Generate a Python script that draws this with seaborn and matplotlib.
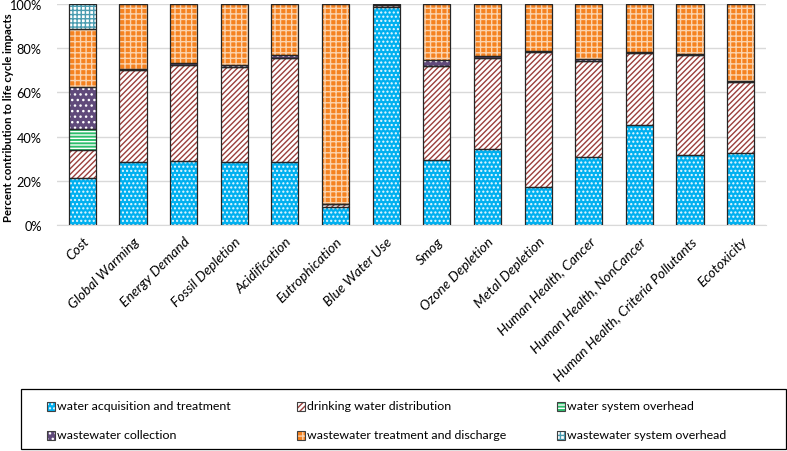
import matplotlib
matplotlib.use("Agg")
import matplotlib.pyplot as plt
import seaborn as sns
import numpy as np
from matplotlib.patches import Rectangle

categories = ["Cost", "Global Warming", "Energy Demand", "Fossil Depletion", "Acidification",
              "Eutrophication", "Blue Water Use", "Smog", "Ozone Depletion", "Metal Depletion",
              "Human Health, Cancer", "Human Health, NonCancer",
              "Human Health, Criteria Pollutants", "Ecotoxicity"]

water_acq = [21.2, 28.6, 29.0, 28.6, 28.6, 8.3, 98.7, 29.5, 34.3, 17.0, 30.6, 45.3, 31.5, 32.6]
drinking = [12.7, 41.4, 43.4, 43.0, 46.9, 1.0, 0.7, 42.4, 41.4, 61.2, 43.7, 32.4, 45.4, 32.0]
water_overhead = [9.6, 0, 0, 0, 0, 0, 0, 0, 0, 0, 0, 0, 0, 0]
ww_collection = [18.8, 0.7, 0.9, 0.8, 1.5, 0.1, 0.3, 2.9, 0.7, 0.7, 0.8, 0.7, 0.3, 0.4]
ww_treatment = [26.5, 29.3, 26.7, 27.6, 23.0, 90.6, 0.3, 25.2, 23.6, 21.1, 24.9, 21.6, 22.8, 35.0]
ww_overhead = [11.2, 0, 0, 0, 0, 0, 0, 0, 0, 0, 0, 0, 0, 0]

series_names = ["water acquisition and treatment", "drinking water distribution",
                "water system overhead", "wastewater collection",
                "wastewater treatment and discharge", "wastewater system overhead"]
series_values = [water_acq, drinking, water_overhead, ww_collection, ww_treatment, ww_overhead]

# (facecolor, hatch, hatch color)
styles = [
    ("#00B0F0", "....", "#EAF9FF"),
    ("#FFFFFF", "//////", "#9B3F3C"),
    ("#2DBE6C", "-----", "#FFFFFF"),
    ("#604A7B", "...", "#FFFFFF"),
    ("#F58220", "+++", "#FBD3AE"),
    ("#FFFFFF", "++++", "#4A9CB0"),
]

W, H = 787, 452
plt.rcParams['hatch.linewidth'] = 1.0
fig = plt.figure(figsize=(W / 100, H / 100), dpi=100)
ax = fig.add_axes([57 / W, 1 - 226 / H, (766 - 57) / W, 221 / H])

bottom = np.zeros(len(categories))
for name, vals, (fc, hatch, hc) in zip(series_names, series_values, styles):
    vals = np.array(vals, dtype=float)
    sns.barplot(x=categories, y=vals, bottom=bottom, color=fc, saturation=1,
                hatch=hatch, edgecolor=hc, linewidth=0, width=0.535, ax=ax, zorder=2)
    sns.barplot(x=categories, y=vals, bottom=bottom, color="#262626", fill=False,
                saturation=1, edgecolor="#262626", linewidth=0.9, width=0.535, ax=ax, zorder=3)
    bottom = bottom + vals

ax.set_ylim(0, 100)
ax.set_xlim(-0.5, len(categories) - 0.5)
ax.set_yticks([0, 20, 40, 60, 80, 100])
ax.set_yticklabels(["0%", "20%", "40%", "60%", "80%", "100%"], fontsize=9.2, family="Lato")
ax.yaxis.grid(True, color="#D9D9D9", linewidth=1, zorder=0)
ax.set_axisbelow(True)
for s in ["top", "right", "left"]:
    ax.spines[s].set_visible(False)
ax.spines["bottom"].set_color("#D9D9D9")
ax.tick_params(axis="both", length=0)
ax.tick_params(axis="y", pad=11)
ax.set_xticks(range(len(categories)))
ax.set_xticklabels(categories, rotation=45, ha="right", rotation_mode="anchor",
                   fontsize=10, style="italic", family="Lato")
ax.tick_params(axis="x", pad=7)
ax.set_ylabel("Percent contribution to life cycle impacts", fontsize=8.2,
              fontweight="bold", family="Lato")
ax.yaxis.set_label_coords(-0.061, 0.49)

# legend box drawn by hand (frame + swatches + labels), laid out row-wise like the original
fig.patches.append(Rectangle((21 / W, 1 - 450 / H), (786 - 21) / W, 60 / H,
                             transform=fig.transFigure, facecolor="white",
                             edgecolor="#000000", linewidth=0.9))
col_x = [47, 297, 557]
row_y = [407, 436]
for k in range(len(series_names)):
    r, c = divmod(k, 3)
    fc, hatch, hc = styles[k]
    x0, y0 = col_x[c], row_y[r]
    fig.patches.append(Rectangle((x0 / W, 1 - (y0 + 4.5) / H), 8 / W, 9 / H,
                                 transform=fig.transFigure, facecolor=fc,
                                 hatch=hatch, edgecolor=hc, linewidth=0))
    fig.patches.append(Rectangle((x0 / W, 1 - (y0 + 4.5) / H), 8 / W, 9 / H,
                                 transform=fig.transFigure, fill=False,
                                 edgecolor="#404040", linewidth=0.8))
    fig.text((x0 + 10) / W, 1 - y0 / H, series_names[k], fontsize=8.9, family="Lato",
             va="center", ha="left")

fig.savefig("out.png", dpi=100)
